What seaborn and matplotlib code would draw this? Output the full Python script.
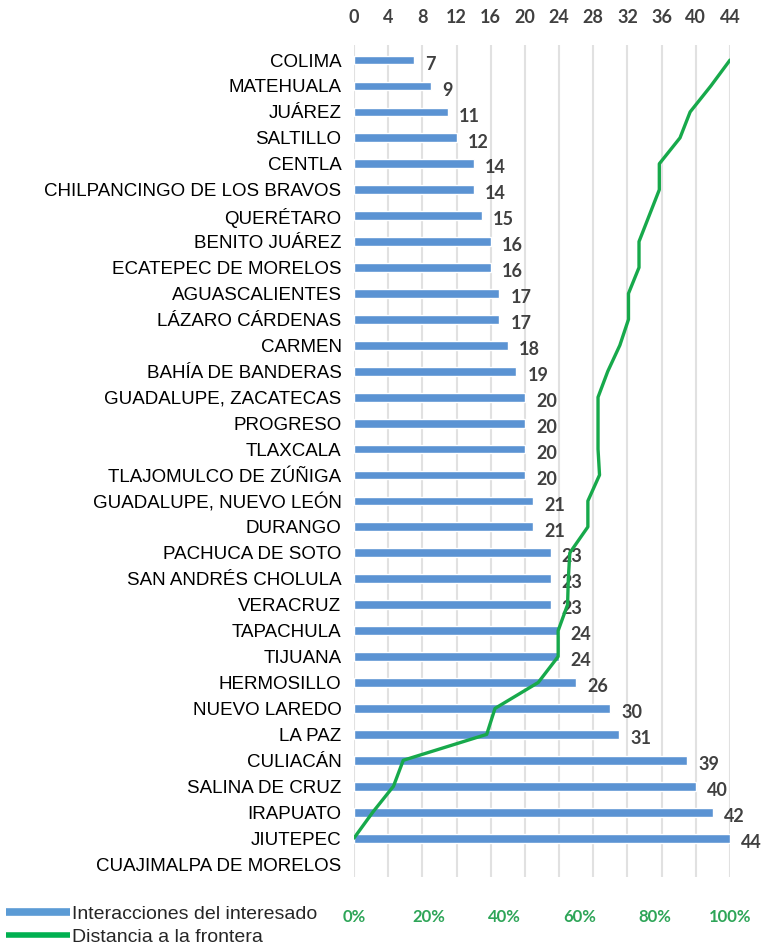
import numpy as np
import pandas as pd
import matplotlib
matplotlib.use("Agg")
import matplotlib.pyplot as plt
import seaborn as sns
from matplotlib.lines import Line2D

categories = [
    "COLIMA", "MATEHUALA", "JUÁREZ", "SALTILLO", "CENTLA",
    "CHILPANCINGO DE LOS BRAVOS", "QUERÉTARO", "BENITO JUÁREZ",
    "ECATEPEC DE MORELOS", "AGUASCALIENTES", "LÁZARO CÁRDENAS", "CARMEN",
    "BAHÍA DE BANDERAS", "GUADALUPE, ZACATECAS", "PROGRESO", "TLAXCALA",
    "TLAJOMULCO DE ZÚÑIGA", "GUADALUPE, NUEVO LEÓN", "DURANGO",
    "PACHUCA DE SOTO", "SAN ANDRÉS CHOLULA", "VERACRUZ", "TAPACHULA",
    "TIJUANA", "HERMOSILLO", "NUEVO LAREDO", "LA PAZ", "CULIACÁN",
    "SALINA DE CRUZ", "IRAPUATO", "JIUTEPEC", "CUAJIMALPA DE MORELOS",
]
interacciones = [7, 9, 11, 12, 14, 14, 15, 16, 16, 17, 17, 18, 19, 20, 20, 20,
                 20, 21, 21, 23, 23, 23, 24, 24, 26, 30, 31, 39, 40, 42, 44, np.nan]
distancia = [100, 94.9, 89.4, 86.7, 81.2, 81.2, 78.5, 75.8, 75.8, 73.0, 73.0,
             70.7, 67.5, 64.9, 64.9, 64.9, 65.3, 62.2, 62.2, 57.4, 57.0, 56.8,
             54.3, 54.3, 49.0, 37.5, 35.3, 13.1, 10.5, 5.0, 0.0, np.nan]
x_ticks = [0, 4, 8, 12, 16, 20, 24, 28, 32, 36, 40, 44]
pct_ticks = [0, 20, 40, 60, 80, 100]
pct_labels = ["0%", "20%", "40%", "60%", "80%", "100%"]
legend_labels = ["Interacciones del interesado", "Distancia a la frontera"]

BLUE = "#5B93D3"
GREEN = "#17A94B"
DARK = "#404040"

sns.set_theme(style="white")
plt.rcParams['font.family'] = ['Liberation Sans', 'DejaVu Sans']

W, H = 761, 949
fig = plt.figure(figsize=(W / 100, H / 100), dpi=100)
rect = [354 / W, 1 - 877 / H, (730 - 354) / W, (877 - 45) / H]
ax = fig.add_axes(rect)

df = pd.DataFrame({"ciudad": categories, "valor": interacciones})
sns.barplot(data=df, x="valor", y="ciudad", orient="h", color=BLUE,
            saturation=1, width=0.34, ax=ax, errorbar=None)

ylim = (31.5, -0.58)
ax.set_xlim(0, 44)
ax.set_ylim(*ylim)
ax.xaxis.tick_top()
ax.set_xticks(x_ticks)
ax.set_xticklabels([str(t) for t in x_ticks], family=['Lato', 'DejaVu Sans'],
                   fontweight='bold', fontsize=13, color=DARK)
ax.tick_params(axis='x', length=0, pad=14)
ax.tick_params(axis='y', length=0, pad=9, labelsize=13.5, labelcolor='black')
ax.set_xlabel("")
ax.set_ylabel("")
for s in ax.spines.values():
    s.set_visible(False)
ax.grid(axis='x', color='#E1E1E1', lw=1.5)
ax.grid(axis='y', visible=False)
ax.set_axisbelow(True)

for i, v in enumerate(interacciones):
    if np.isnan(v):
        continue
    ax.annotate(f"{int(v)}", xy=(v, i), xytext=(8, -3), textcoords='offset points',
                ha='left', va='center', fontsize=13, fontweight='bold',
                family=['Lato', 'DejaVu Sans'], color=DARK, annotation_clip=False)

ax2 = fig.add_axes(rect)
ax2.patch.set_visible(False)
pos = np.arange(len(categories))
sns.lineplot(x=distancia, y=pos, sort=False, estimator=None, color=GREEN,
             lw=2.4, ax=ax2)
ax2.set_xlim(0, 100)
ax2.set_ylim(*ylim)
ax2.set_yticks([])
ax2.set_xticks(pct_ticks)
ax2.set_xticklabels(pct_labels, family=['Lato', 'DejaVu Sans'], fontweight='bold',
                    fontsize=12, color="#2EA558")
ax2.tick_params(axis='x', length=0, pad=23)
ax2.set_xlabel("")
ax2.set_ylabel("")
for s in ax2.spines.values():
    s.set_visible(False)

handles = [Line2D([], [], color="#5B9BD5", lw=5.5, solid_capstyle='butt'),
           Line2D([], [], color="#00B050", lw=4, solid_capstyle='butt')]
fig.legend(handles, legend_labels, loc='lower left', bbox_to_anchor=(4 / W, 1 / H),
           frameon=False, fontsize=14, handlelength=3.3, handletextpad=0.1,
           labelspacing=0.3, borderpad=0.1, borderaxespad=0)

fig.savefig("out.png", dpi=100)
